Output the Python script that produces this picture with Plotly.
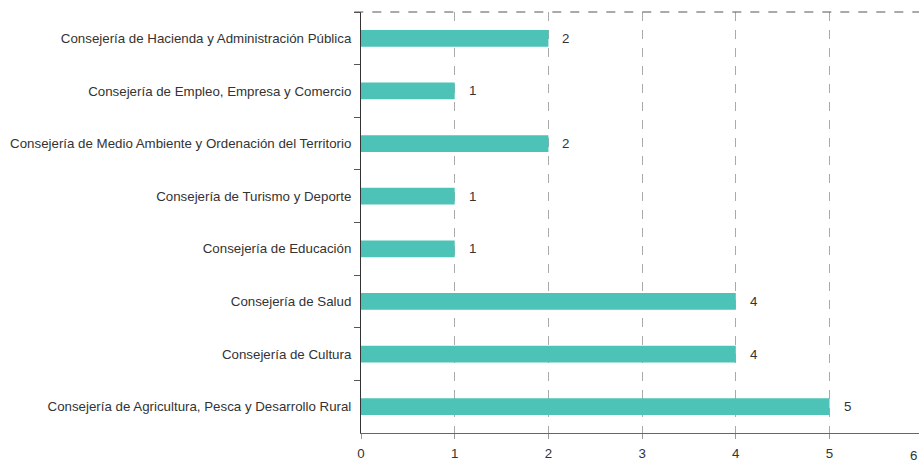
import plotly.graph_objects as go

categories = [
    "Consejería de Hacienda y Administración Pública",
    "Consejería de Empleo, Empresa y Comercio",
    "Consejería de Medio Ambiente y Ordenación del Territorio",
    "Consejería de Turismo y Deporte",
    "Consejería de Educación",
    "Consejería de Salud",
    "Consejería de Cultura",
    "Consejería de Agricultura, Pesca y Desarrollo Rural",
]
values = [2, 1, 2, 1, 1, 4, 4, 5]
x_ticks = [0, 1, 2, 3, 4, 5, 6]
X_MAX = 5.955

FONT = "Liberation Sans, Arial, sans-serif"
TXT = "#333333"
FS = 13.3

fig = go.Figure()
fig.add_trace(go.Bar(
    y=categories, x=values, orientation="h",
    marker=dict(color="#4DC2B6", line=dict(width=0)),
    width=0.32, hoverinfo="skip",
))

for c, v in zip(categories, values):
    fig.add_annotation(x=v, y=c, xref="x", yref="y", text=str(v), showarrow=False,
                       xanchor="left", xshift=12, font=dict(family=FONT, size=FS, color=TXT))

# tick "6" lies just past the right edge of the window and is clipped
fig.add_annotation(x=x_ticks[-1] / X_MAX, y=0, xref="paper", yref="paper",
                   text=str(x_ticks[-1]), showarrow=False, yanchor="top",
                   yshift=-13, xshift=-4,
                   font=dict(family=FONT, size=FS, color=TXT))

fig.add_shape(type="line", xref="paper", yref="paper", x0=-0.012, x1=1, y0=1, y1=1,
              line=dict(color="#555555", width=1, dash="dash"))

fig.update_layout(
    width=919, height=460,
    margin=dict(l=361, r=0, t=12, b=27),
    plot_bgcolor="white", paper_bgcolor="white",
    showlegend=False,
    font=dict(family=FONT, size=FS, color=TXT),
    xaxis=dict(range=[0, X_MAX], tickvals=x_ticks, showgrid=True, gridcolor="#aaaaaa",
               griddash="dash", gridwidth=1, zeroline=False,
               showline=True, linecolor="#666666", linewidth=1,
               ticks="outside", ticklen=5, tickcolor="#999999",
               tickfont=dict(family=FONT, size=FS, color=TXT), ticklabelstandoff=3),
    yaxis=dict(autorange="reversed", showline=True, linecolor="#333333", linewidth=1,
               ticks="outside", tickson="boundaries", ticklen=6, tickcolor="#555555",
               showgrid=False, tickfont=dict(family=FONT, size=FS, color=TXT),
               ticklabelstandoff=6),
)

fig.write_html(
    "out.html",
    config={"displayModeBar": False},
    post_script="document.body.style.margin='0';document.body.style.overflow='hidden';",
)
